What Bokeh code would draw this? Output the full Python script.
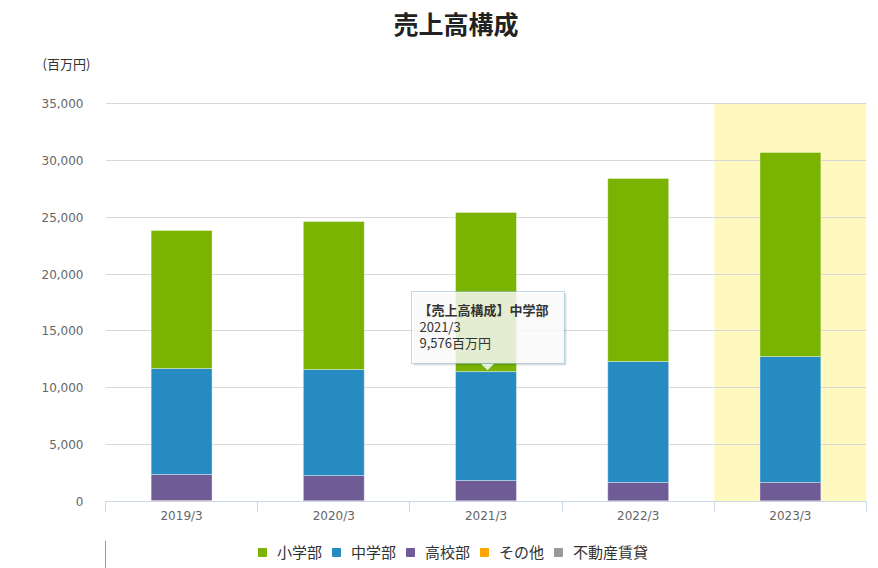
from bokeh.plotting import figure
from bokeh.layouts import column
from bokeh.models import (ColumnDataSource, FixedTicker, Legend, LegendItem, Label, Title,
                          BoxAnnotation, PolyAnnotation, NumeralTickFormatter, Range1d)
from bokeh.embed import file_html
from bokeh.resources import INLINE

# ---- data (百万円) ----
categories = ["2019/3", "2020/3", "2021/3", "2022/3", "2023/3"]
shogakubu = [12136, 13015, 13989, 16093, 17940]   # 小学部
chugakubu = [9322, 9322, 9576, 10641, 11080]      # 中学部
kokobu = [2294, 2216, 1787, 1611, 1611]           # 高校部
sonota = [60, 50, 40, 40, 40]                     # その他
fudosan = [20, 20, 20, 20, 20]                    # 不動産賃貸
series_names = ["小学部", "中学部", "高校部", "その他", "不動産賃貸"]
y_ticks = [0, 5000, 10000, 15000, 20000, 25000, 30000, 35000]

FONT = "Noto Sans CJK JP"
NUMFONT = "DejaVu Sans"
colors = {"小学部": "#7AB300", "中学部": "#268BC0", "高校部": "#6F5B96",
          "その他": "#FFA500", "不動産賃貸": "#999999"}

# layout (pixels): value area 105..866 x 103..501; frame starts a bit higher
W, H = 878, 568
L, R = 105, 12
FT = 82                         # frame top
AX_Y = 501                      # pixel row of the x axis
AX_TOP = 103                    # pixel row of the 35,000 gridline
MAIN_H = 541                    # height of the chart figure; legend strip below
n = len(categories)
YMAX = 35000
fw = W - L - R
fh = AX_Y - FT
per_px = YMAX / (AX_Y - AX_TOP)
y_end = fh * per_px


def X(px):
    return (px - L) / fw * n


def Y(py):
    return (AX_Y - py) * per_px


xs = [i + 0.5 for i in range(n)]
src = ColumnDataSource(dict(x=xs, 小学部=shogakubu, 中学部=chugakubu, 高校部=kokobu,
                            その他=sonota, 不動産賃貸=fudosan))

p = figure(frame_width=fw, frame_height=fh, output_backend="svg", toolbar_location=None,
           x_range=Range1d(0, n), y_range=Range1d(0, y_end),
           min_border_left=L, min_border_right=R, min_border_top=FT,
           min_border_bottom=MAIN_H - AX_Y)
p.outline_line_color = None
p.background_fill_color = "white"

# main title (outer panel) and unit label (panel next to the frame)
p.title.text = "売上高構成"
p.title.align = "left"
p.title.offset = 393 - L
p.title.standoff = 2
p.title.text_font = FONT
p.title.text_font_size = "25px"
p.title.text_font_style = "bold"
p.title.text_color = "#222222"
p.add_layout(Title(text="(百万円)", align="left", offset=42 - L, standoff=20,
                   text_font=FONT, text_font_size="13px", text_font_style="normal",
                   text_color="#333333"), "above")

# highlight band for last category
band = BoxAnnotation(left=n - 1, right=n, bottom=0, top=YMAX, fill_color="#FFF9C0",
                     fill_alpha=1.0, line_color=None, level="image")
p.add_layout(band)

stack_order = ["不動産賃貸", "その他", "高校部", "中学部", "小学部"]
rs = p.vbar_stack(stack_order, x="x", width=0.4, source=src,
                  color=[colors[s] for s in stack_order],
                  line_color="white", line_alpha=0.35, line_width=1)

# axes
xa = p.xaxis[0]
xa.axis_label = None
xa.ticker = FixedTicker(ticks=xs, minor_ticks=list(range(n + 1)))
xa.major_label_overrides = {x: c for x, c in zip(xs, categories)}
xa.major_tick_line_color = None
xa.major_tick_out = 0
xa.major_tick_in = 0
xa.minor_tick_line_color = "#CCD6EB"
xa.minor_tick_out = 10
xa.minor_tick_in = 0
xa.axis_line_color = "#CCD6EB"
xa.major_label_standoff = -3
xa.major_label_text_font = NUMFONT
xa.major_label_text_font_size = "12px"
xa.major_label_text_color = "#666666"

ya = p.yaxis[0]
ya.axis_label = None
ya.ticker = FixedTicker(ticks=y_ticks)
ya.formatter = NumeralTickFormatter(format="0,0")
ya.axis_line_color = None
ya.major_tick_line_color = None
ya.minor_tick_line_color = None
ya.major_label_standoff = 16
ya.major_label_text_font = NUMFONT
ya.major_label_text_font_size = "12px"
ya.major_label_text_color = "#666666"

p.xgrid.grid_line_color = None
p.ygrid.grid_line_color = "#D8D8D8"
p.ygrid.ticker = FixedTicker(ticks=y_ticks)

# tooltip (2021/3 中学部)
idx = 2
shadow = BoxAnnotation(left=X(413), right=X(566), top=Y(293), bottom=Y(365),
                       fill_color="black", fill_alpha=0.12, line_color=None)
p.add_layout(shadow)
tip = BoxAnnotation(left=X(411), right=X(564), top=Y(291), bottom=Y(363),
                    fill_color="white", fill_alpha=0.82, line_color="#2A8BC0",
                    line_width=1)
p.add_layout(tip)
ptr = PolyAnnotation(xs=[X(480), X(487), X(494)], ys=[Y(363), Y(370), Y(363)],
                     fill_color="white", fill_alpha=0.82, line_color="#2A8BC0",
                     line_width=1)
p.add_layout(ptr)
p.add_layout(Label(x=X(418), y=Y(299), text="【売上高構成】" + series_names[1],
                   text_baseline="top", text_font=FONT, text_font_size="13px",
                   text_font_style="bold", text_color="#333333"))
p.add_layout(Label(x=X(419), y=Y(316), text=categories[idx],
                   text_baseline="top", text_font=FONT, text_font_size="13px",
                   text_color="#333333"))
p.add_layout(Label(x=X(419), y=Y(332), text=f"{chugakubu[idx]:,}百万円",
                   text_baseline="top", text_font=FONT, text_font_size="13px",
                   text_color="#333333"))

# legend strip below the chart (its frame is aligned with the chart's frame);
# the key glyphs reuse the series data but lie outside this strip's view
LEG_H = H - MAIN_H
lf = figure(width=W, height=LEG_H, output_backend="svg", toolbar_location=None,
            x_range=Range1d(100, 101), y_range=Range1d(0, 1), x_axis_type=None,
            y_axis_type=None, min_border=0)
lf.outline_line_color = None
lf.xgrid.visible = False
lf.ygrid.visible = False
key_r = {s: lf.vbar(x="x", top=s, width=0.4, source=src, color=colors[s])
         for s in series_names}
leg = Legend(items=[LegendItem(label=s, renderers=[key_r[s]]) for s in series_names],
             location=(257 - L, LEG_H - 21), orientation="horizontal",
             glyph_width=10, glyph_height=10, label_standoff=10, spacing=9,
             label_text_font=FONT, label_text_font_size="15px", label_text_color="#333333",
             background_fill_alpha=0, border_line_color=None, padding=0, margin=0)
lf.add_layout(leg, "center")

layout = column(p, lf, spacing=0)
open("out.html", "w").write(file_html(layout, INLINE))
